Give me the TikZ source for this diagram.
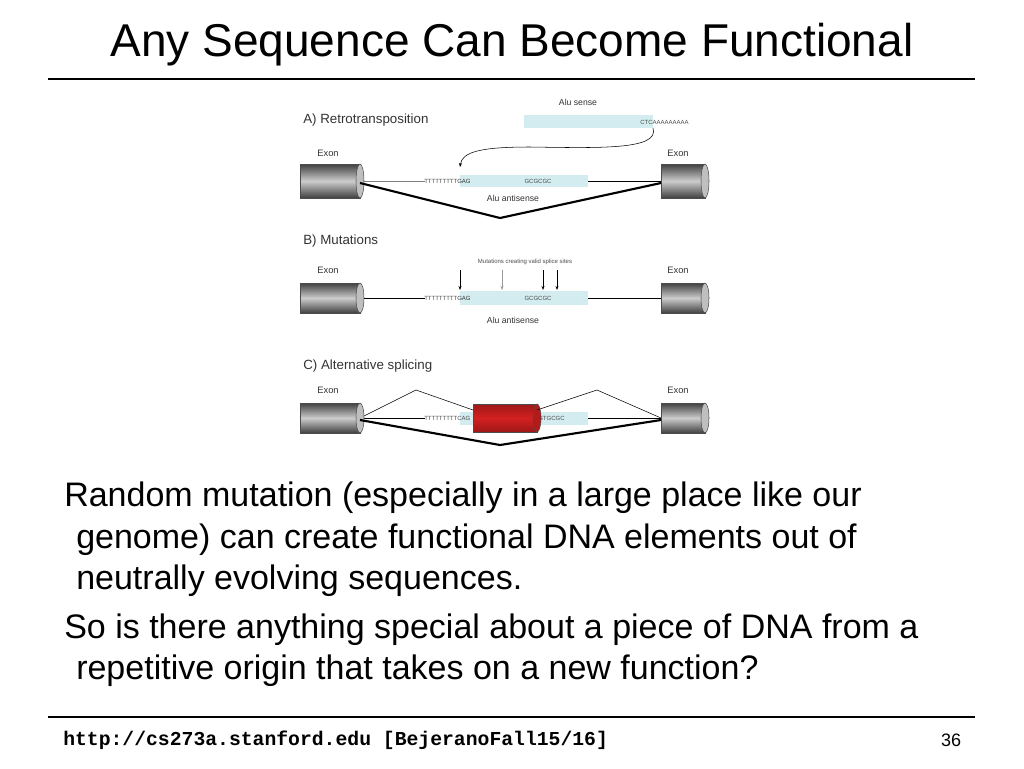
\documentclass[tikz,border=0pt]{standalone}
\usepackage{fontspec}
\setmainfont{Liberation Sans}
\setmonofont{Liberation Mono}
\usetikzlibrary{arrows.meta}
\definecolor{alu}{HTML}{D3ECEF}
\definecolor{exred}{HTML}{D32020}
\tikzset{
  lbl/.style={inner sep=0pt, anchor=west, font=\fontsize{10}{11}\selectfont, text=black!80},
  tiny/.style={inner sep=0pt, font=\fontsize{4.5}{5}\selectfont, text=black!70},
  thick line/.style={line width=1.6pt},
  thin line/.style={line width=0.4pt},
  body/.style={inner sep=0pt, anchor=west, font=\fontsize{25.5}{28}\selectfont},
}
\newcommand{\cyl}[7]{% x1,x2,ycenter,halfheight,edge,middle,end
  \shade[top color=#5, bottom color=#5, middle color=#6, draw=black!70] (#1,#3-#4) rectangle (#2,#3+#4);
  \filldraw[fill=#7, draw=black!70] (#2,#3) ellipse [x radius=4, y radius=#4];
}
\begin{document}
\begin{tikzpicture}[x=0.75pt,y=-0.75pt]
\useasboundingbox (0,0) rectangle (1024,768);
\node (title) at (512,45) {\fontsize{34.5}{38}\selectfont Any Sequence Can Become Functional};
\draw[line width=2.2pt] (48,79) -- (975,79);
% ---- A
\node[lbl] (la) at (303,120) {A) Retrotransposition};
\node[inner sep=0pt, font=\fontsize{6.5}{7}\selectfont, text=black!80] (as) at (578,102) {Alu sense};
\fill[alu] (524,115) rectangle (653,128);
\node[tiny, anchor=west] (ctc) at (640,122) {CTCAAAAAAAAA};
\coordinate (sa) at (653,128);
\coordinate (sb) at (460,167);
\draw[thin line, -{Stealth[length=3pt]}] (sa) .. controls (660,150) and (600,148) .. (530,147) .. controls (480,147) and (462,152) .. (sb);
\node[inner sep=0pt, font=\fontsize{7}{8}\selectfont, text=black!80] (exa1) at (328,153) {Exon};
\node[inner sep=0pt, font=\fontsize{7}{8}\selectfont, text=black!80] (exa2) at (678,153) {Exon};
\draw[thin line, black!50] (360,181) -- (425,181);
\draw[thin line] (588,181) -- (661,181);
\fill[alu] (460,175) rectangle (588,187);
\node[tiny, anchor=west] (ta) at (424,181) {TTTTTTTTT\textcolor{black!80}{GAG}};
\node[tiny] (ga) at (538,181) {GCGCGC};
\node[inner sep=0pt, font=\fontsize{6.5}{7}\selectfont, text=black!80] (aa) at (513,198) {Alu antisense};
\cyl{300}{360}{181}{17}{black!75}{black!20}{black!25}
\cyl{661}{705}{181}{17}{black!75}{black!20}{black!25}
\draw[thick line] (360,183) -- (500,218) -- (661,183);
% ---- B
\node[lbl] (lb) at (303,241) {B) Mutations};
\node[inner sep=0pt, font=\fontsize{7}{8}\selectfont, text=black!80] (exb1) at (328,270) {Exon};
\node[inner sep=0pt, font=\fontsize{7}{8}\selectfont, text=black!80] (exb2) at (678,270) {Exon};
\draw[thin line] (360,298) -- (425,298);
\draw[thin line] (588,298) -- (661,298);
\fill[alu] (460,291) rectangle (588,305);
\node[tiny, anchor=west] (tb) at (424,298) {TTTTTTTTT\textcolor{black!80}{GAG}};
\node[tiny] (gb) at (538,298) {GCGCGC};
\node[tiny] (mut) at (525,262) {Mutations creating valid splice sites};
\foreach \xx/\cc in {460/black,502/black!40,543/black,557/black}
  \draw[thin line, \cc, -{Stealth[length=3pt]}] (\xx,270) -- (\xx,290);
\node[inner sep=0pt, font=\fontsize{6.5}{7}\selectfont, text=black!80] (ab) at (513,320) {Alu antisense};
\cyl{300}{360}{298}{15}{black!75}{black!20}{black!25}
\cyl{661}{705}{298}{15}{black!75}{black!20}{black!25}
% ---- C
\node[lbl] (lc) at (303,366) {C) Alternative splicing};
\node[inner sep=0pt, font=\fontsize{7}{8}\selectfont, text=black!80] (exc1) at (328,390) {Exon};
\node[inner sep=0pt, font=\fontsize{7}{8}\selectfont, text=black!80] (exc2) at (678,390) {Exon};
\draw[thin line] (360,418) -- (425,418);
\draw[thin line] (588,418) -- (661,418);
\fill[alu] (460,412) rectangle (588,425);
\node[tiny, anchor=west] (tc) at (424,418) {TTTTTTTTTCAG};
\node[tiny, anchor=west] (gc) at (538,418) {GTGCGC};
\cyl{473}{537}{418}{14}{exred!75!black}{exred}{exred!85!black}
\draw[thin line] (360,418) -- (416,390) -- (473,410);
\draw[thin line] (537,410) -- (597,390) -- (661,418);
\cyl{300}{360}{418}{15}{black!75}{black!20}{black!25}
\cyl{661}{705}{418}{15}{black!75}{black!20}{black!25}
\draw[thick line] (360,420) -- (500,445) -- (661,420);
% ---- text
\node[body] (t1) at (64,498) {Random mutation (especially in a large place like our};
\node[body] (t2) at (76,540) {genome) can create functional DNA elements out of};
\node[body] (t3) at (76,581) {neutrally evolving sequences.};
\node[body] (t4) at (64,630) {So is there anything special about a piece of DNA from a};
\node[body] (t5) at (76,671) {repetitive origin that takes on a new function?};
\draw[line width=1.5pt] (48,717) -- (975,717);
\node[inner sep=0pt, anchor=west, font=\ttfamily\bfseries\fontsize{14.8}{16}\selectfont] (url) at (63,740) {http://cs273a.stanford.edu [BejeranoFall15/16]};
\node[inner sep=0pt, font=\fontsize{13.5}{15}\selectfont] (pg) at (951,740) {36};
\end{tikzpicture}
\end{document}
